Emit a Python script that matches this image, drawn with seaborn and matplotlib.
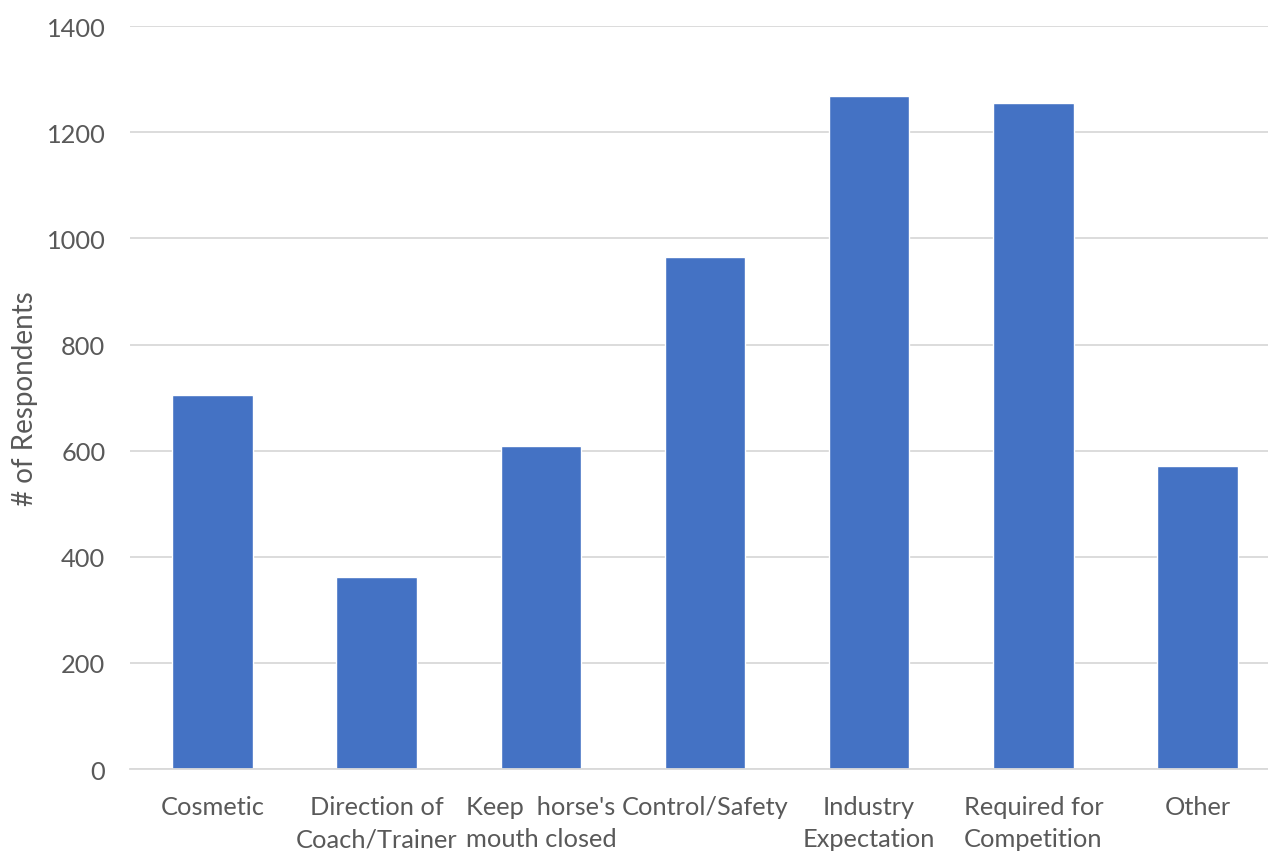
import matplotlib
matplotlib.use("Agg")
import matplotlib.pyplot as plt
import seaborn as sns
import pandas as pd

categories = ["Cosmetic", "Direction of\nCoach/Trainer", "Keep  horse's\nmouth closed",
              "Control/Safety", "Industry\nExpectation", "Required for\nCompetition", "Other"]
values = [705, 362, 609, 965, 1268, 1255, 571]
yticks = [0, 200, 400, 600, 800, 1000, 1200, 1400]

sns.set_theme(style="white")
plt.rcParams['font.family'] = ['Lato', 'DejaVu Sans']

df = pd.DataFrame({"cat": categories, "val": values})

fig = plt.figure(figsize=(12.68, 8.53), dpi=100)
left = 130.4 / 1268
right = 1279.6 / 1268
ax = fig.add_axes([left, 0.0973, right - left, 0.8707])
sns.barplot(data=df, x="cat", y="val", color="#4472C4", width=0.49, saturation=1, ax=ax)

ax.set_ylim(0, 1400)
ax.set_xlim(-0.5, 6.5)
ax.set_yticks(yticks)
ax.set_yticklabels([str(t) for t in yticks], fontsize=18.3, color="#595959")
ax.grid(axis="y", color="#d9d9d9", linewidth=1.3)
ax.set_axisbelow(True)
for s in ["top", "right", "left"]:
    ax.spines[s].set_visible(False)
ax.spines["bottom"].set_color("#d9d9d9")
ax.spines["bottom"].set_linewidth(1.3)
ax.tick_params(axis="x", length=0, pad=18.5, labelsize=18.3, labelcolor="#595959")
ax.tick_params(axis="y", length=0, pad=18)
ax.set_xlabel("")
ax.set_ylabel("# of Respondents", fontsize=20, color="#595959", labelpad=6)
for lbl in ax.get_xticklabels():
    lbl.set_linespacing(1.5)

fig.savefig("out.png", dpi=100)
